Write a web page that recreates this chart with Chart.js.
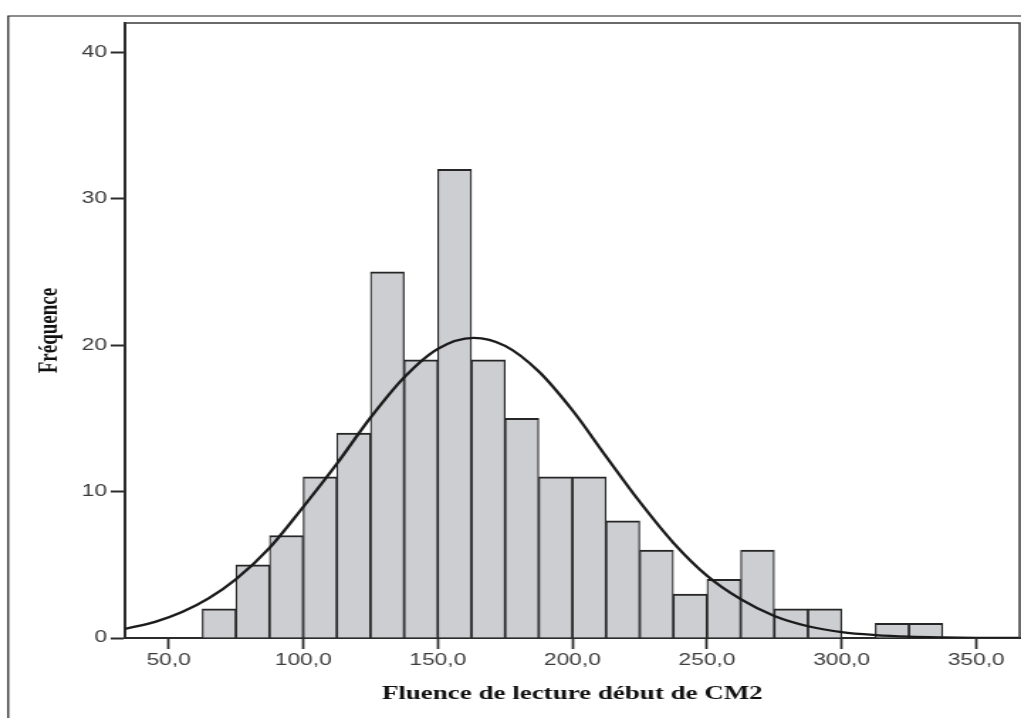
<!DOCTYPE html>
<html lang="fr">
<head>
<meta charset="utf-8">
<title>Fluence de lecture début de CM2</title>
<script src="https://cdn.jsdelivr.net/npm/chart.js@4.4.1/dist/chart.umd.min.js"></script>
<style>
	html, body { margin: 0; padding: 0; background: #fff; overflow: hidden; }
	/* the reference figure is stretched sideways, so the drawing is too */
	#wrap { width: 719px; height: 718px; transform: scaleX(1.42003); transform-origin: 0 0; }
</style>
</head>
<body>
<div id="wrap"><canvas id="histogram" width="719" height="718"></canvas></div>
<script>
// histogram bins (lower edge) and counts
const binWidth = 12.5
const binStarts = [62.5, 75, 87.5, 100, 112.5, 125, 137.5, 150, 162.5, 175, 187.5, 200, 212.5, 225, 237.5, 250, 262.5, 275, 287.5, 300, 312.5, 325]
const counts = [2, 5, 7, 11, 14, 25, 19, 32, 19, 15, 11, 11, 8, 6, 3, 4, 6, 2, 2, 0, 1, 1]

// normal curve
const curveX = [33.8, 45, 55, 65, 75, 87.5, 100, 112.5, 125, 137.5, 150, 163.3, 175, 187.5, 200, 212.5, 225, 237.5, 250, 262.5, 275, 287.5, 300, 312.5, 325, 337.5, 350, 366.1]
const curveY = [0.62, 1.1, 1.77, 2.72, 4.01, 6.16, 8.95, 11.9, 15.05, 17.8, 19.75, 20.5, 19.95, 18.2, 15.55, 12.4, 9.3, 6.5, 4.25, 2.65, 1.5, 0.8, 0.4, 0.2, 0.09, 0.04, 0.015, 0.003]

// axis ticks
const xTicks = [50, 100, 150, 200, 250, 300, 350]
const yTicks = [0, 10, 20, 30, 40]

const framePlugin = {
	id: 'frame',
	afterDraw(chart) {
		const { ctx, chartArea } = chart
		ctx.save()
		// top and right of the plot box
		ctx.strokeStyle = '#3a3a3a'
		ctx.lineWidth = 1.5
		ctx.beginPath()
		ctx.moveTo(chartArea.left, chartArea.top)
		ctx.lineTo(chartArea.right, chartArea.top)
		ctx.lineTo(chartArea.right, chartArea.bottom)
		ctx.stroke()
		// outer frame of the figure
		ctx.strokeStyle = '#1a1a1a'
		ctx.lineWidth = 1.2
		ctx.beginPath()
		ctx.moveTo(5.8, chart.height)
		ctx.lineTo(5.8, 16)
		ctx.lineTo(chart.width, 16)
		ctx.stroke()
		ctx.restore()
	},
}

const tickFont = { family: "'Liberation Sans', Arial, sans-serif", size: 16 }
const titleFont = { family: "'Liberation Serif', 'Times New Roman', serif", size: 19, weight: 'bold' }

const ctx = document.getElementById('histogram').getContext('2d')
new Chart(ctx, {
	type: 'bar',
	data: {
		datasets: [
			{
				type: 'line',
				data: curveX.map((x, i) => ({ x, y: curveY[i] })),
				borderColor: '#1a1a1a',
				borderWidth: 2.3,
				pointRadius: 0,
				cubicInterpolationMode: 'monotone',
				order: 1,
			},
			{
				data: binStarts.map((start, i) => ({ x: start + binWidth / 2, y: counts[i] })),
				backgroundColor: '#cdced2',
				borderColor: '#262626',
				borderWidth: { top: 2, left: 1.2, right: 1.2, bottom: 0 },
				barPercentage: 1,
				categoryPercentage: 1,
				order: 2,
			},
		],
	},
	options: {
		responsive: false,
		animation: false,
		layout: { padding: { top: 23, right: 1, left: 0, bottom: 0 } },
		plugins: {
			legend: { display: false },
			tooltip: { enabled: false },
		},
		scales: {
			x: {
				type: 'linear',
				min: 33.8,
				max: 366.1,
				offset: false,
				afterBuildTicks: (scale) => { scale.ticks = xTicks.map((v) => ({ value: v })) },
				afterFit: (scale) => { scale.height = 80 },
				grid: { drawOnChartArea: false, offset: false, tickLength: 11, tickColor: '#2b2b2b', tickWidth: 1.7 },
				border: { color: '#2b2b2b', width: 2 },
				ticks: {
					padding: 1.5,
					color: '#3c3c3c',
					font: tickFont,
					maxRotation: 0,
					autoSkip: false,
					callback: (value) => value.toFixed(1).replace('.', ','),
				},
				title: {
					display: true,
					text: 'Fluence de lecture début de CM2',
					color: '#111',
					font: titleFont,
					padding: { top: 0, bottom: 12.6 },
				},
			},
			y: {
				min: 0,
				max: 42,
				afterBuildTicks: (scale) => { scale.ticks = yTicks.map((v) => ({ value: v })) },
				afterFit: (scale) => { scale.width = 88 },
				grid: { drawOnChartArea: false, tickLength: 10, tickColor: '#2b2b2b', tickWidth: 2 },
				border: { color: '#2b2b2b', width: 2 },
				ticks: {
					padding: 2.7,
					color: '#3c3c3c',
					font: tickFont,
				},
				title: {
					display: true,
					text: 'Fréquence',
					color: '#111',
					font: titleFont,
					padding: { top: 23.6, bottom: 0 },
				},
			},
		},
	},
	plugins: [framePlugin],
})
</script>
</body>
</html>
